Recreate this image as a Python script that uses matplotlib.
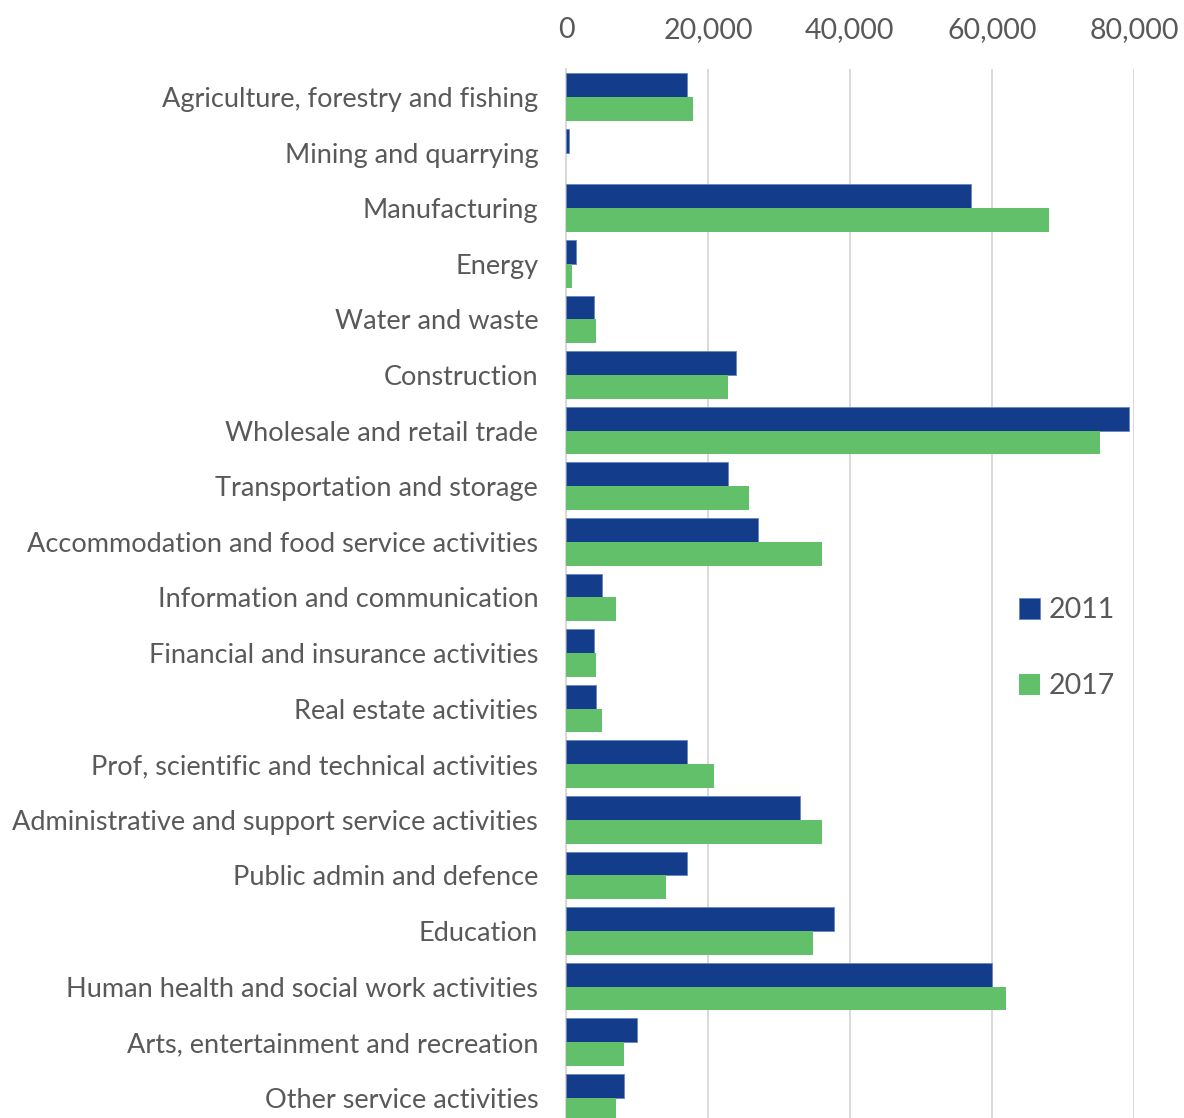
import matplotlib
matplotlib.use('Agg')
import matplotlib.pyplot as plt
import numpy as np
from matplotlib.ticker import FuncFormatter

plt.rcParams['font.family'] = ['Lato', 'DejaVu Sans']

categories = ['Agriculture, forestry and fishing', 'Mining and quarrying', 'Manufacturing',
              'Energy', 'Water and waste', 'Construction', 'Wholesale and retail trade',
              'Transportation and storage', 'Accommodation and food service activities',
              'Information and communication', 'Financial and insurance activities',
              'Real estate activities', 'Prof, scientific and technical activities',
              'Administrative and support service activities', 'Public admin and defence',
              'Education', 'Human health and social work activities',
              'Arts, entertainment and recreation', 'Other service activities']
v2011 = [17000, 400, 57000, 1400, 4000, 24000, 79300, 22800, 27000, 5100, 4000, 4300,
         17100, 33000, 17100, 37800, 60000, 10000, 8200]
v2017 = [17900, 0, 68000, 900, 4300, 22800, 75200, 25800, 36000, 7000, 4300, 5100,
         20900, 36000, 14100, 34800, 62000, 8200, 7000]

grey = '#595959'
blue = '#133C8B'
green = '#62BF6A'

fig = plt.figure(figsize=(11.84, 11.18), dpi=100)
ax = fig.add_axes([0.478, -0.0068, 0.4797, 0.9449])

y = np.arange(len(categories))
h = 0.4286
ax.barh(y - h / 2, v2011, height=h, color=blue, edgecolor='#6a86c0', linewidth=0.6, label='2011', zorder=3)
ax.barh(y + h / 2, v2017, height=h, color=green, linewidth=0, label='2017', zorder=3)

ax.set_xlim(0, 80000)
ax.set_ylim(len(categories) - 0.5, -0.5)
ax.set_xticks([0, 20000, 40000, 60000, 80000])
ax.xaxis.set_major_formatter(FuncFormatter(lambda v, p: f'{int(v):,}'))
ax.xaxis.tick_top()
ax.set_yticks(y)
ax.set_yticklabels(categories)
ax.tick_params(axis='x', length=0, pad=19, labelsize=20.5, labelcolor=grey)
ax.tick_params(axis='y', length=0, pad=20, labelsize=19.5, labelcolor=grey)
ax.grid(axis='x', color='#d9d9d9', linewidth=1.4, zorder=0)
for s in ['top', 'right', 'bottom']:
    ax.spines[s].set_visible(False)
ax.spines['left'].set_color('#d9d9d9')
ax.spines['left'].set_linewidth(1.4)

leg = ax.legend(loc='center left', bbox_to_anchor=(0.752, 0.452), frameon=False,
                fontsize=20.5, labelcolor=grey, handlelength=0.75, handleheight=0.75,
                labelspacing=1.75, handletextpad=0.3)

fig.savefig('out.png', dpi=100)
